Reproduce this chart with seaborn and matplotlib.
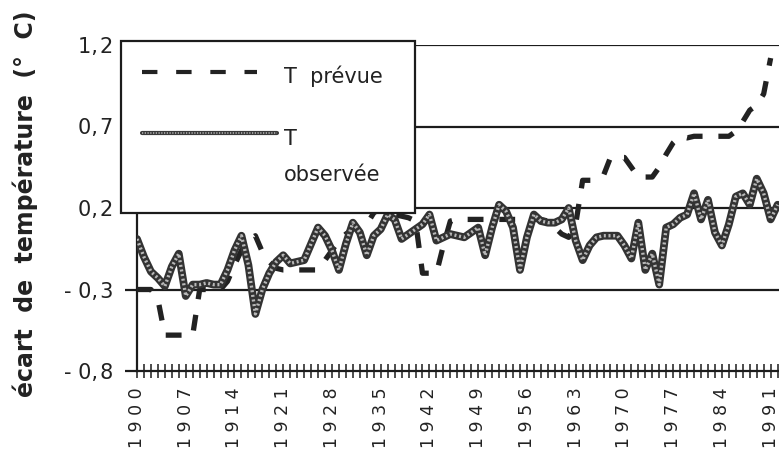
import numpy as np
import pandas as pd
import matplotlib
matplotlib.use("Agg")
import matplotlib.pyplot as plt
import seaborn as sns
from matplotlib.patches import Rectangle
from matplotlib.lines import Line2D

# ---- data ----
years = list(range(1900, 1993))
observed = [
    0.01, -0.10, -0.19, -0.23, -0.28, -0.16, -0.08, -0.34, -0.27, -0.27,   # 1900-1909
    -0.26, -0.27, -0.27, -0.18, -0.06, 0.03, -0.15, -0.45, -0.30, -0.20,   # 1910-1919
    -0.13, -0.09, -0.14, -0.13, -0.12, -0.02, 0.08, 0.03, -0.06, -0.18,    # 1920-1929
    -0.02, 0.11, 0.05, -0.09, 0.03, 0.07, 0.16, 0.13, 0.01, 0.04,          # 1930-1939
    0.07, 0.10, 0.16, 0.00, 0.02, 0.04, 0.03, 0.02, 0.05, 0.08,            # 1940-1949
    -0.09, 0.08, 0.22, 0.18, 0.08, -0.18, 0.02, 0.16, 0.12, 0.11,          # 1950-1959
    0.11, 0.13, 0.20, 0.00, -0.12, -0.03, 0.02, 0.03, 0.03, 0.03,          # 1960-1969
    -0.03, -0.11, 0.11, -0.18, -0.08, -0.27, 0.08, 0.10, 0.14, 0.16,       # 1970-1979
    0.29, 0.13, 0.25, 0.05, -0.03, 0.10, 0.27, 0.29, 0.22, 0.38,           # 1980-1989
    0.29, 0.13, 0.22,                                                      # 1990-1992
]
pred_years = list(range(1900, 1992))
predicted = [
    -0.30, -0.30, -0.30, -0.36, -0.58, -0.58, -0.58, -0.58, -0.58, -0.30,  # 1900-1909
    -0.30, -0.30, -0.30, -0.25, -0.15, -0.06, 0.00, 0.03, -0.07, -0.13,    # 1910-1919
    -0.17, -0.18, -0.18, -0.18, -0.18, -0.18, -0.18, -0.12, -0.06, 0.00,   # 1920-1929
    0.04, 0.07, 0.09, 0.10, 0.17, 0.20, 0.18, 0.16, 0.15, 0.14,            # 1930-1939
    0.12, -0.20, -0.20, -0.20, -0.03, 0.12, 0.13, 0.13, 0.13, 0.13,        # 1940-1949
    0.13, 0.13, 0.13, 0.13, 0.13, 0.13, 0.13, 0.13, 0.13, 0.12,            # 1950-1959
    0.08, 0.04, 0.02, 0.10, 0.37, 0.37, 0.37, 0.40, 0.51, 0.51,            # 1960-1969
    0.51, 0.45, 0.39, 0.39, 0.39, 0.45, 0.53, 0.60, 0.64, 0.63,            # 1970-1979
    0.64, 0.64, 0.64, 0.64, 0.64, 0.64, 0.67, 0.73, 0.80, 0.83,            # 1980-1989
    0.90, 1.12,                                                            # 1990-1991
]
ytick_values = [-0.8, -0.3, 0.2, 0.7, 1.2]
ytick_labels = ["- 0,\u200a8", "- 0,\u200a3", "0,\u200a2", "0,\u200a7", "1,\u200a2"]
xtick_years = list(range(1900, 1992, 7))
xtick_labels = [" ".join(str(y)) for y in xtick_years]

df_obs = pd.DataFrame({"année": years, "T observée": observed})
df_pred = pd.DataFrame({"année": pred_years, "T prévue": predicted})

# ---- figure ----
sns.set_theme(style="white")
plt.rcParams["font.family"] = ["DejaVu Sans"]
W, H = 779, 453
fig = plt.figure(figsize=(W / 100, H / 100), dpi=100, facecolor="white")
ax = fig.add_axes([137 / W, (H - 371) / H, (W - 137) / W, (371 - 45) / H])
ax.set_facecolor("white")

ink = "#1c1c1c"

# predicted (dashed)
sns.lineplot(data=df_pred, x="année", y="T prévue", ax=ax, color="#222222",
             linewidth=3.8, linestyle=(0, (3.0, 3.0)), legend=False, zorder=3)
for ln in ax.lines:
    ln.set_dash_capstyle("butt")

# observed (thick textured band)
sns.lineplot(data=df_obs, x="année", y="T observée", ax=ax, color="#333333",
             linewidth=5.6, legend=False, zorder=4,
             solid_joinstyle="round", solid_capstyle="round")
sns.lineplot(data=df_obs, x="année", y="T observée", ax=ax, color="#b8b8b8",
             linewidth=2.4, linestyle=(0, (0.6, 0.8)), legend=False, zorder=5)

ax.set_xlim(1900, 1992.2)
ax.set_ylim(-0.8, 1.2)

# grid lines
for v in ytick_values[1:]:
    ax.axhline(v, color=ink, linewidth=1.6, zorder=2)

for s in ["top", "right"]:
    ax.spines[s].set_visible(False)
for s in ["left", "bottom"]:
    ax.spines[s].set_color(ink)
    ax.spines[s].set_linewidth(1.6)

ax.set_yticks(ytick_values)
ax.set_yticklabels(ytick_labels, fontsize=15, color="#222222")
ax.tick_params(axis="y", left=True, direction="out", length=8.5, width=1.6,
               color=ink, pad=8.5)

ax.set_xticks(xtick_years)
ax.set_xticks(years, minor=True)
ax.set_xticklabels(xtick_labels, rotation=90, fontsize=12.5, color="#222222")
ax.tick_params(axis="x", which="both", bottom=True, direction="inout",
               length=9.5, width=1.1, color=ink, pad=7)
ax.set_xlabel("")
ax.set_ylabel("")
ax.grid(False)

fig.text(0.033, 0.55, "écart  de  température  (°  C)", rotation=90,
         fontsize=17, fontweight="bold", color="#222222",
         ha="center", va="center")

# ---- legend box (figure pixel positions) ----
def fx(px):
    return px / W

def fy(py):
    return (H - py) / H

box = Rectangle((fx(121), fy(213)), fx(415) - fx(121), fy(41) - fy(213),
                transform=fig.transFigure, facecolor="white", edgecolor=ink,
                linewidth=1.6, zorder=10)
fig.add_artist(box)
l1 = Line2D([fx(142), fx(257)], [fy(72), fy(72)], transform=fig.transFigure,
            color="#222222", linewidth=3.0, linestyle=(0, (3.7, 4.5)), zorder=11)
l1.set_dash_capstyle("butt")
fig.add_artist(l1)
l2 = Line2D([fx(142), fx(277)], [fy(133), fy(133)], transform=fig.transFigure,
            color="#3a3a3a", linewidth=3.0, zorder=11)
fig.add_artist(l2)
l3 = Line2D([fx(142), fx(277)], [fy(133), fy(133)], transform=fig.transFigure,
            color="#b8b8b8", linewidth=1.1, linestyle=(0, (0.8, 1.0)), zorder=12)
fig.add_artist(l3)
fig.text(fx(284), fy(76), "T  prévue", fontsize=15, color="#222222",
         ha="left", va="center", zorder=12)
fig.text(fx(284), fy(139), "T", fontsize=15, color="#222222",
         ha="left", va="center", zorder=12)
fig.text(fx(284), fy(175), "observée", fontsize=15, color="#222222",
         ha="left", va="center", zorder=12)

fig.savefig("out.png", dpi=100, facecolor="white")
